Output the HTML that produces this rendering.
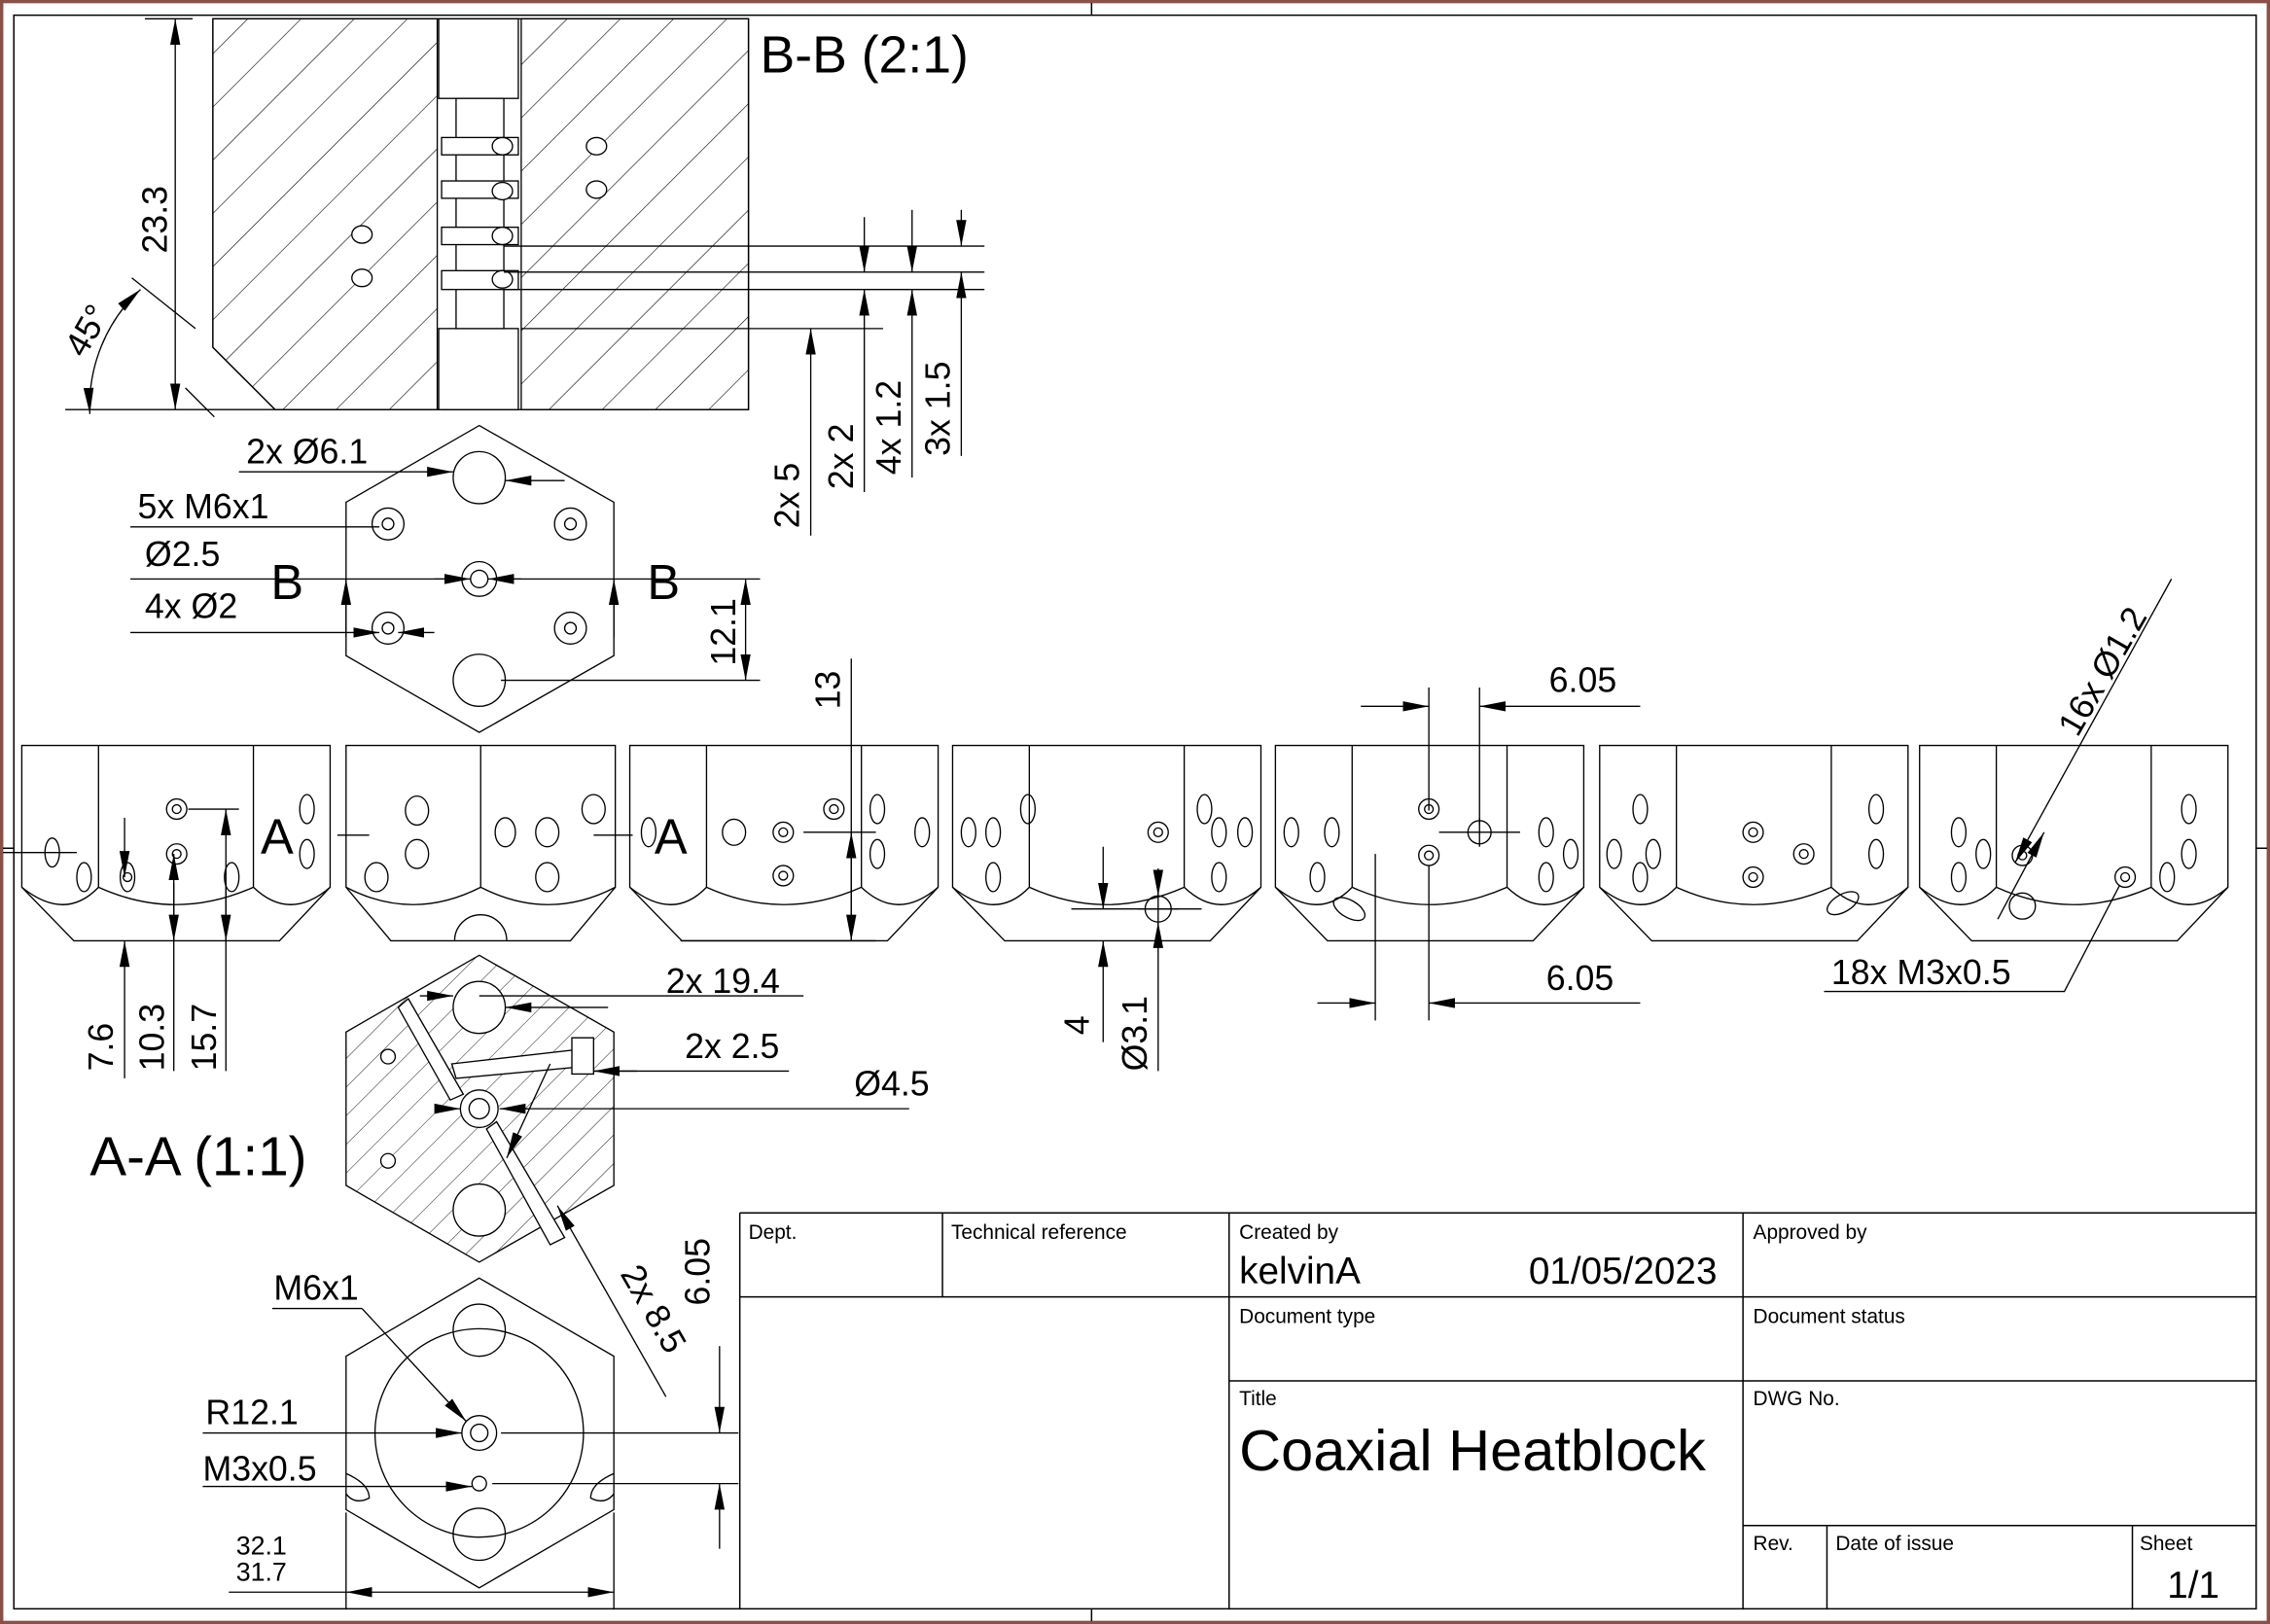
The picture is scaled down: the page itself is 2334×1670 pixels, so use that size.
<!DOCTYPE html>
<html><head><meta charset="utf-8"><style>
html,body{margin:0;padding:0;background:#fff;}
svg{display:block;}
text{font-family:"Liberation Sans",sans-serif;fill:#000;}
</style></head><body>
<svg width="2334" height="1670" viewBox="0 0 1568 1122" xmlns="http://www.w3.org/2000/svg">
<defs>
<pattern id="h1" width="26" height="26" patternUnits="userSpaceOnUse" patternTransform="rotate(45)">
<line x1="0" y1="0" x2="0" y2="26" stroke="#000" stroke-width="0.8"/></pattern>
<pattern id="h2" width="14" height="14" patternUnits="userSpaceOnUse" patternTransform="rotate(45)">
<line x1="0" y1="0" x2="0" y2="14" stroke="#000" stroke-width="0.6"/></pattern>
<marker id="ar" viewBox="0 0 18 8" refX="18" refY="4" markerWidth="18" markerHeight="8" markerUnits="userSpaceOnUse" orient="auto-start-reverse">
<path d="M0,0.5 L18,4 L0,7.5 Z" fill="#000"/></marker>
<g id="vA" fill="none" stroke="#000" stroke-width="0.9">
<path d="M0,0 H213 V98 L178,135 H36 L0,98 Z"/>
<path d="M53,0 V98 M160,0 V98"/>
<path d="M53,98 Q106,122 160,98 M0,98 Q30,122 53,98 M160,98 Q185,122 213,98"/>
</g>
<g id="vB" fill="none" stroke="#000" stroke-width="0.9">
<path d="M0,0 H186 V98 L155,135 H31 L0,98 Z"/>
<path d="M93,0 V98 M0,98 Q46,122 93,98 Q140,122 186,98"/>
<path d="M75,135 A18,18 0 0 1 111,135"/>
</g>
</defs>
<rect x="0" y="0" width="1568" height="1122" fill="#fff"/>
<rect x="1" y="1" width="1566" height="1120" fill="none" stroke="#8a5048" stroke-width="2.5"/>
<rect x="9.5" y="10.5" width="1549" height="1101" fill="none" stroke="#000" stroke-width="1"/>
<path d="M754,2 V10 M754,1112 V1120 M2,586 H9 M1559,586 H1566" stroke="#000" stroke-width="1"/>

<g stroke="#000" stroke-width="0.9" fill="none">
<path d="M147,13 H302 V283 H190 L147,240 Z" fill="url(#h1)"/>
<path d="M360,13 H517 V283 H360 Z" fill="url(#h1)"/>
<path d="M147,13 H517 V283 H190 L147,240 Z"/>
<rect x="303" y="13" width="55" height="55" fill="#fff"/>
<rect x="303" y="227" width="55" height="56" fill="#fff"/>
<rect x="315" y="68" width="33" height="159" fill="#fff"/>
<rect x="305" y="95" width="53" height="12" fill="#fff"/>
<rect x="305" y="125" width="53" height="12" fill="#fff"/>
<rect x="305" y="157" width="53" height="12" fill="#fff"/>
<rect x="305" y="187" width="53" height="13" fill="#fff"/>
<g fill="#fff">
<ellipse cx="347" cy="101" rx="7" ry="6"/><ellipse cx="412" cy="101" rx="7" ry="6"/>
<ellipse cx="347" cy="132" rx="7" ry="6"/><ellipse cx="412" cy="131" rx="7" ry="6"/>
<ellipse cx="250" cy="162" rx="7" ry="6"/><ellipse cx="250" cy="192" rx="7" ry="6"/>
<ellipse cx="347" cy="163" rx="7" ry="6"/><ellipse cx="347" cy="193" rx="7" ry="6"/>
</g>
<path d="M348,170 H680 M348,188 H680 M348,200 H680 M360,227 H610"/>
<path d="M45,283 H190"/>
</g>
<g stroke="#000" stroke-width="0.9" fill="none">
<line x1="121" y1="13" x2="121" y2="283" marker-start="url(#ar)" marker-end="url(#ar)"/>
<path d="M100,13 H133"/>
<path d="M128,268 L148,288 M91,192 L135,227"/>
<path d="M97,200 A110,110 0 0 0 62,286" marker-start="url(#ar)" marker-end="url(#ar)"/>
<line x1="560" y1="227" x2="560" y2="370" marker-start="url(#ar)"/>
<line x1="597" y1="200" x2="597" y2="340" marker-start="url(#ar)"/>
<line x1="597" y1="150" x2="597" y2="188" marker-end="url(#ar)"/>
<line x1="630" y1="145" x2="630" y2="188" marker-end="url(#ar)"/>
<line x1="630" y1="200" x2="630" y2="330" marker-start="url(#ar)"/>
<line x1="664" y1="145" x2="664" y2="170" marker-end="url(#ar)"/>
<line x1="664" y1="188" x2="664" y2="315" marker-start="url(#ar)"/>
</g>
<text x="525" y="50" font-size="36">B-B (2:1)</text>
<text transform="translate(115,175) rotate(-90)" font-size="24">23.3</text>
<text transform="translate(58,248) rotate(-60)" font-size="24">45°</text>
<text transform="translate(552,365) rotate(-90)" font-size="24">2x 5</text>
<text transform="translate(589,338) rotate(-90)" font-size="24">2x 2</text>
<text transform="translate(622,328) rotate(-90)" font-size="24">4x 1.2</text>
<text transform="translate(656,315) rotate(-90)" font-size="24">3x 1.5</text>

<g stroke="#000" stroke-width="0.9" fill="none">
<path d="M331,294 L424,347 V453 L331,506 L239,453 V347 Z"/>
<circle cx="331" cy="330" r="18"/><circle cx="331" cy="470" r="18"/>
<circle cx="331" cy="400" r="12"/><circle cx="331" cy="400" r="6"/>
<circle cx="268" cy="362" r="11"/><circle cx="268" cy="362" r="4"/>
<circle cx="394" cy="362" r="11"/><circle cx="394" cy="362" r="4"/>
<circle cx="268" cy="434" r="11"/><circle cx="268" cy="434" r="4"/>
<circle cx="394" cy="434" r="11"/><circle cx="394" cy="434" r="4"/>
<line x1="165" y1="326" x2="313" y2="326" marker-end="url(#ar)"/>
<line x1="390" y1="332" x2="349" y2="332" marker-end="url(#ar)"/>
<path d="M90,364 H262"/><path d="M90,400 H319"/><line x1="300" y1="400" x2="325" y2="400" marker-end="url(#ar)"/>
<line x1="360" y1="400" x2="337" y2="400" marker-end="url(#ar)"/>
<path d="M355,400 H525 M346,470 H525"/>
<line x1="90" y1="437" x2="262" y2="437" marker-end="url(#ar)"/>
<line x1="300" y1="437" x2="275" y2="437" marker-end="url(#ar)"/>
<line x1="239" y1="400" x2="239" y2="440" marker-start="url(#ar)"/>
<line x1="424" y1="400" x2="424" y2="440" marker-start="url(#ar)"/>
<line x1="515" y1="400" x2="515" y2="470" marker-start="url(#ar)" marker-end="url(#ar)"/>
</g>
<text x="170" y="320" font-size="24">2x Ø6.1</text>
<text x="95" y="358" font-size="24">5x M6x1</text>
<text x="100" y="391" font-size="24">Ø2.5</text>
<text x="100" y="427" font-size="24">4x Ø2</text>
<text x="187" y="414" font-size="34">B</text>
<text x="447" y="414" font-size="34">B</text>
<text transform="translate(508,460) rotate(-90)" font-size="24">12.1</text>

<use href="#vA" x="15" y="515"/>
<g transform="translate(239,515)"><use href="#vB"/></g>
<use href="#vA" transform="translate(435,515)"/>
<use href="#vA" transform="translate(658,515)"/>
<use href="#vA" transform="translate(881,515)"/>
<use href="#vA" transform="translate(1105,515)"/>
<use href="#vA" transform="translate(1326,515)"/>
<g stroke="#000" stroke-width="0.9" fill="none">
<ellipse cx="36" cy="589" rx="5" ry="10"/><ellipse cx="88" cy="606" rx="5" ry="10"/>
<circle cx="88" cy="606" r="3"/>
<circle cx="122" cy="559" r="7"/><circle cx="122" cy="559" r="3"/>
<circle cx="122" cy="590" r="7"/><circle cx="122" cy="590" r="3"/>
<ellipse cx="58" cy="606" rx="5" ry="10"/>
<ellipse cx="160" cy="606" rx="5" ry="10"/><ellipse cx="212" cy="559" rx="5" ry="10"/>
<ellipse cx="212" cy="590" rx="5" ry="10"/>
<path d="M2,589 H53"/>
<ellipse cx="288" cy="560" rx="8" ry="10"/><ellipse cx="288" cy="590" rx="8" ry="10"/>
<ellipse cx="260" cy="606" rx="8" ry="10"/><ellipse cx="349" cy="575" rx="7" ry="10"/>
<ellipse cx="378" cy="575" rx="8" ry="10"/><ellipse cx="378" cy="606" rx="8" ry="10"/>
<ellipse cx="410" cy="559" rx="8" ry="10"/>
<path d="M233,577 H255 M410,577 H437"/>
<ellipse cx="448" cy="575" rx="5" ry="10"/><ellipse cx="507" cy="575" rx="8" ry="9"/>
<circle cx="541" cy="575" r="7"/><circle cx="541" cy="575" r="3"/>
<circle cx="541" cy="605" r="7"/><circle cx="541" cy="605" r="3"/>
<circle cx="576" cy="559" r="7"/><circle cx="576" cy="559" r="3"/>
<ellipse cx="606" cy="559" rx="5" ry="10"/><ellipse cx="637" cy="575" rx="5" ry="10"/>
<ellipse cx="606" cy="590" rx="5" ry="10"/>
<ellipse cx="669" cy="575" rx="5" ry="10"/><ellipse cx="686" cy="575" rx="5" ry="10"/>
<ellipse cx="686" cy="606" rx="5" ry="10"/><ellipse cx="710" cy="559" rx="5" ry="10"/>
<circle cx="800" cy="575" r="7"/><circle cx="800" cy="575" r="3"/>
<circle cx="800" cy="628" r="9"/><path d="M786,628 H814 M800,614 V642"/>
<ellipse cx="832" cy="559" rx="5" ry="10"/><ellipse cx="842" cy="575" rx="5" ry="10"/>
<ellipse cx="860" cy="575" rx="5" ry="10"/><ellipse cx="842" cy="606" rx="5" ry="10"/>
<ellipse cx="892" cy="575" rx="5" ry="10"/><ellipse cx="910" cy="606" rx="5" ry="10"/>
<ellipse cx="920" cy="575" rx="5" ry="10"/>
<circle cx="987" cy="559" r="7"/><circle cx="987" cy="559" r="3"/>
<circle cx="987" cy="591" r="7"/><circle cx="987" cy="591" r="3"/>
<circle cx="1022" cy="575" r="8"/><path d="M994,575 H1050 M1022,565 V585"/>
<ellipse cx="1068" cy="575" rx="5" ry="10"/><ellipse cx="1068" cy="606" rx="5" ry="10"/>
<ellipse cx="1085" cy="590" rx="5" ry="10"/>
<ellipse cx="932" cy="628" rx="12" ry="6" transform="rotate(30 932 628)"/>
<ellipse cx="1115" cy="590" rx="5" ry="10"/><ellipse cx="1133" cy="559" rx="5" ry="10"/>
<ellipse cx="1133" cy="606" rx="5" ry="10"/><ellipse cx="1142" cy="590" rx="5" ry="10"/>
<circle cx="1211" cy="575" r="7"/><circle cx="1211" cy="575" r="3"/>
<circle cx="1211" cy="606" r="7"/><circle cx="1211" cy="606" r="3"/>
<circle cx="1246" cy="590" r="7"/><circle cx="1246" cy="590" r="3"/>
<ellipse cx="1296" cy="559" rx="5" ry="10"/><ellipse cx="1296" cy="590" rx="5" ry="10"/>
<ellipse cx="1273" cy="624" rx="12" ry="6" transform="rotate(-30 1273 624)"/>
<ellipse cx="1353" cy="575" rx="5" ry="10"/><ellipse cx="1353" cy="606" rx="5" ry="10"/>
<ellipse cx="1370" cy="590" rx="5" ry="10"/>
<circle cx="1397" cy="591" r="7"/><circle cx="1397" cy="591" r="3"/>
<circle cx="1397" cy="626" r="9"/>
<circle cx="1468" cy="606" r="7"/><circle cx="1468" cy="606" r="3"/>
<ellipse cx="1512" cy="559" rx="5" ry="10"/><ellipse cx="1512" cy="590" rx="5" ry="10"/>
<ellipse cx="1497" cy="606" rx="5" ry="10"/>
</g>
<g stroke="#000" stroke-width="0.9" fill="none">
<path d="M130,559 H165 M555,575 H605 M588,455 V650 M470,650 H605"/>
<line x1="86" y1="565" x2="86" y2="606" marker-end="url(#ar)"/>
<line x1="86" y1="745" x2="86" y2="650" marker-end="url(#ar)"/>
<line x1="120" y1="740" x2="120" y2="590" marker-end="url(#ar)"/>
<line x1="120" y1="610" x2="120" y2="650" marker-end="url(#ar)"/>
<line x1="156" y1="740" x2="156" y2="559" marker-end="url(#ar)"/>
<line x1="156" y1="610" x2="156" y2="650" marker-end="url(#ar)"/>
<line x1="588" y1="575" x2="588" y2="650" marker-start="url(#ar)" marker-end="url(#ar)"/>
<line x1="762" y1="585" x2="762" y2="628" marker-end="url(#ar)"/>
<line x1="762" y1="720" x2="762" y2="650" marker-end="url(#ar)"/>
<path d="M740,628 H830"/>
<line x1="800" y1="740" x2="800" y2="637" marker-end="url(#ar)"/>
<line x1="800" y1="600" x2="800" y2="619" marker-end="url(#ar)"/>
<path d="M987,475 V560 M1022,475 V570 M950,590 V705 M987,598 V705"/>
<line x1="940" y1="488" x2="987" y2="488" marker-end="url(#ar)"/>
<line x1="1133" y1="488" x2="1022" y2="488" marker-end="url(#ar)"/>
<line x1="910" y1="693" x2="950" y2="693" marker-end="url(#ar)"/>
<line x1="1133" y1="693" x2="987" y2="693" marker-end="url(#ar)"/>
<line x1="1500" y1="400" x2="1392" y2="596" marker-end="url(#ar)"/>
<line x1="1380" y1="635" x2="1412" y2="575" marker-end="url(#ar)"/>
<path d="M1260,685 H1426 L1464,612"/>
</g>
<text x="180" y="590" font-size="34">A</text>
<text x="452" y="590" font-size="34">A</text>
<text transform="translate(580,490) rotate(-90)" font-size="24">13</text>
<text transform="translate(78,740) rotate(-90)" font-size="24">7.6</text>
<text transform="translate(113,740) rotate(-90)" font-size="24">10.3</text>
<text transform="translate(149,740) rotate(-90)" font-size="24">15.7</text>
<text transform="translate(752,715) rotate(-90)" font-size="24">4</text>
<text transform="translate(792,740) rotate(-90)" font-size="24">Ø3.1</text>
<text x="1070" y="478" font-size="24">6.05</text>
<text x="1068" y="684" font-size="24">6.05</text>
<text transform="translate(1435,510) rotate(-60)" font-size="24">16x Ø1.2</text>
<text x="1265" y="680" font-size="24">18x M3x0.5</text>

<g stroke="#000" stroke-width="0.9" fill="none">
<path d="M331,660 L424,713 V819 L331,872 L239,819 V713 Z" fill="url(#h2)"/>
<circle cx="331" cy="696" r="18" fill="#fff"/><circle cx="331" cy="836" r="18" fill="#fff"/>
<circle cx="331" cy="766" r="13" fill="#fff"/><circle cx="331" cy="766" r="7"/>
<circle cx="268" cy="730" r="5" fill="#fff"/><circle cx="268" cy="802" r="5" fill="#fff"/>
<path d="M282,690 L320,756 L311,760 L275,696 Z" fill="#fff"/>
<path d="M312,735 L400,725 L402,737 L315,745 Z" fill="#fff"/>
<path d="M343,775 L390,855 L380,860 L336,780 Z" fill="#fff"/>
<path d="M395,717 L410,717 L410,742 L395,742 Z" fill="#fff"/>
<path d="M331,688 H555 M410,740 H545 M346,766 H628"/>
<line x1="290" y1="688" x2="313" y2="688" marker-end="url(#ar)"/>
<line x1="420" y1="696" x2="349" y2="696" marker-end="url(#ar)"/>
<line x1="440" y1="740" x2="410" y2="740" marker-end="url(#ar)"/>
<line x1="300" y1="766" x2="318" y2="766" marker-end="url(#ar)"/>
<line x1="365" y1="766" x2="345" y2="766" marker-end="url(#ar)"/>
<line x1="380" y1="735" x2="350" y2="800" marker-end="url(#ar)"/>
<line x1="460" y1="965" x2="385" y2="833" marker-end="url(#ar)"/>
<path d="M346,990 H510 M340,1025 H510"/>
<line x1="497" y1="930" x2="497" y2="990" marker-end="url(#ar)"/>
<line x1="497" y1="1070" x2="497" y2="1025" marker-end="url(#ar)"/>
</g>
<text x="460" y="686" font-size="24">2x 19.4</text>
<text x="473" y="731" font-size="24">2x 2.5</text>
<text x="590" y="757" font-size="24">Ø4.5</text>
<text x="62" y="812" font-size="38">A-A (1:1)</text>
<text transform="translate(428,880) rotate(60)" font-size="24">2x 8.5</text>
<text transform="translate(490,902) rotate(-90)" font-size="24">6.05</text>

<g stroke="#000" stroke-width="0.9" fill="none">
<path d="M331,883 L424,937 V1043 L331,1097 L239,1043 V937 Z"/>
<circle cx="331" cy="990" r="72"/>
<circle cx="331" cy="919" r="18"/><circle cx="331" cy="1060" r="18"/>
<circle cx="331" cy="990" r="12"/><circle cx="331" cy="990" r="6"/>
<circle cx="331" cy="1025" r="5"/>
<path d="M239,1018 Q255,1025 255,1035 Q245,1040 239,1032"/>
<path d="M424,1018 Q408,1025 408,1035 Q418,1040 424,1032"/>
<path d="M188,904 H250"/>
<line x1="250" y1="904" x2="322" y2="982" marker-end="url(#ar)"/>
<line x1="140" y1="990" x2="319" y2="990" marker-end="url(#ar)"/>
<line x1="140" y1="1027" x2="326" y2="1027" marker-end="url(#ar)"/>
<path d="M239,1045 V1112 M424,1045 V1112 M158,1100 H239"/>
<line x1="239" y1="1100" x2="424" y2="1100" marker-start="url(#ar)" marker-end="url(#ar)"/>
</g>
<text x="189" y="898" font-size="24">M6x1</text>
<text x="142" y="984" font-size="24">R12.1</text>
<text x="140" y="1023" font-size="24">M3x0.5</text>
<text x="163" y="1074" font-size="18">32.1</text>
<text x="163" y="1092" font-size="18">31.7</text>

<g stroke="#000" stroke-width="1" fill="none">
<path d="M511,838 H1559 M511,838 V1112 M511,896 H1559 M849,954 H1559 M1204,1054 H1559"/>
<path d="M651,838 V896 M849,838 V1112 M1204,838 V1112 M1262,1054 V1112 M1473,1054 V1112"/>
</g>
<g font-size="14">
<text x="517" y="856">Dept.</text>
<text x="657" y="856">Technical reference</text>
<text x="856" y="856">Created by</text>
<text x="1211" y="856">Approved by</text>
<text x="856" y="914">Document type</text>
<text x="1211" y="914">Document status</text>
<text x="856" y="971">Title</text>
<text x="1211" y="971">DWG No.</text>
<text x="1211" y="1071">Rev.</text>
<text x="1268" y="1071">Date of issue</text>
<text x="1478" y="1071">Sheet</text>
</g>
<text x="856" y="887" font-size="26">kelvinA</text>
<text x="1056" y="887" font-size="26">01/05/2023</text>
<text x="856" y="1016" font-size="40">Coaxial Heatblock</text>
<text x="1497" y="1104" font-size="26">1/1</text>
</svg>
</body></html>
